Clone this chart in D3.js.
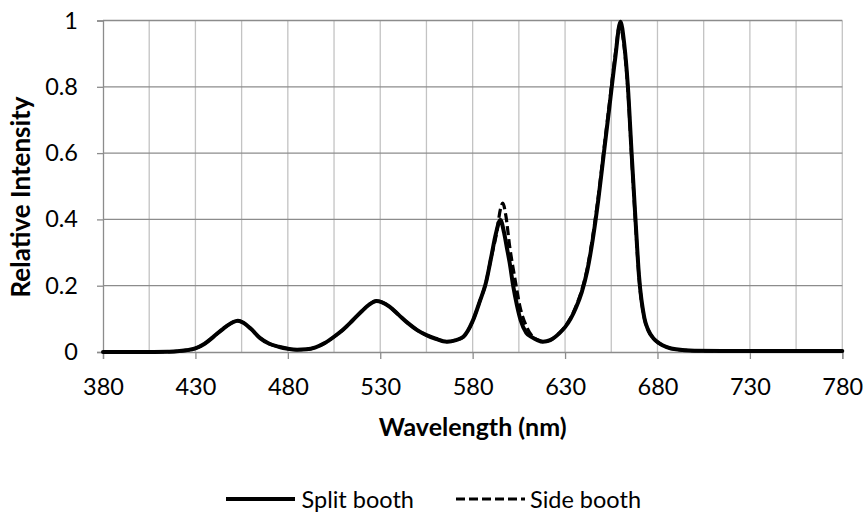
<!DOCTYPE html>
<html>
<head>
<meta charset="utf-8">
<script src="https://cdn.jsdelivr.net/npm/d3@7"></script>
<style>
  html, body { margin: 0; padding: 0; background: #fff; }
  svg { display: block; font-family: Lato, "Open Sans", sans-serif; }
</style>
</head>
<body>
<svg id="chart" width="867" height="512"></svg>
<script>
// Emission spectra of the two booth light sources (relative intensity)
const splitWavelength = [380, 400, 415, 420, 425, 430, 435, 440, 445, 450, 453, 456, 460, 465, 470, 475, 480, 485, 490, 495, 500, 505, 510, 515, 520, 524, 528, 531, 535, 540, 545, 550, 555, 560, 566, 571, 575, 580, 584, 587, 590, 592.5, 595, 597, 598.5, 600, 602, 604, 606, 609, 612, 615, 618, 622, 627, 630, 633, 636, 639, 642, 645, 648, 651, 654, 657, 660, 662, 664, 666, 668, 670, 673, 675, 678, 681, 685, 690, 700, 720, 750, 780];
const splitValue = [0, 0, 0.001, 0.002, 0.005, 0.011, 0.025, 0.047, 0.07, 0.089, 0.094, 0.088, 0.07, 0.042, 0.025, 0.016, 0.01, 0.007, 0.008, 0.014, 0.027, 0.046, 0.068, 0.095, 0.123, 0.143, 0.154, 0.15, 0.137, 0.112, 0.087, 0.066, 0.051, 0.04, 0.031, 0.036, 0.046, 0.093, 0.155, 0.205, 0.285, 0.355, 0.398, 0.36, 0.315, 0.27, 0.197, 0.14, 0.095, 0.058, 0.045, 0.036, 0.031, 0.036, 0.057, 0.075, 0.1, 0.135, 0.18, 0.245, 0.34, 0.46, 0.6, 0.74, 0.88, 0.996, 0.93, 0.8, 0.6, 0.41, 0.23, 0.1, 0.066, 0.04, 0.026, 0.015, 0.008, 0.004, 0.003, 0.003, 0.003];

const sideWavelength = [380, 400, 415, 420, 425, 430, 435, 440, 445, 450, 453, 456, 460, 465, 470, 475, 480, 485, 490, 495, 500, 505, 510, 515, 520, 524, 528, 531, 535, 540, 545, 550, 555, 560, 566, 571, 575, 580, 584, 587, 590, 593, 595, 596.3, 598, 600, 603, 605.6, 609.2, 612.5, 616, 619, 622, 627, 630, 633, 636, 639, 642, 645, 648, 651, 654, 657, 659.6, 662, 664, 666, 668, 670, 673, 675, 678, 681, 685, 690, 700, 720, 750, 780];
const sideValue = [0, 0, 0.001, 0.002, 0.005, 0.011, 0.025, 0.047, 0.07, 0.089, 0.094, 0.088, 0.07, 0.042, 0.025, 0.016, 0.01, 0.007, 0.008, 0.014, 0.027, 0.046, 0.068, 0.095, 0.123, 0.143, 0.154, 0.15, 0.137, 0.112, 0.087, 0.066, 0.051, 0.04, 0.031, 0.036, 0.046, 0.093, 0.155, 0.205, 0.285, 0.36, 0.43, 0.449, 0.41, 0.32, 0.217, 0.137, 0.076, 0.046, 0.035, 0.031, 0.036, 0.058, 0.077, 0.103, 0.139, 0.186, 0.252, 0.35, 0.47, 0.61, 0.75, 0.89, 0.985, 0.92, 0.79, 0.59, 0.4, 0.225, 0.1, 0.066, 0.04, 0.026, 0.015, 0.008, 0.004, 0.003, 0.003, 0.003];

const xTickValues = [380, 430, 480, 530, 580, 630, 680, 730, 780];
const xGridValues = [405, 430, 455, 480, 505, 530, 555, 580, 605, 630, 655, 680, 705, 730, 755, 780];
const yTickValues = [0, 0.2, 0.4, 0.6, 0.8, 1];
const seriesNames = ["Split booth", "Side booth"];

const svg = d3.select("#chart");
const plot = { left: 103, right: 842.3, top: 20.5, bottom: 352 };

const x = d3.scaleLinear().domain([380, 780]).range([plot.left, plot.right]);
const y = d3.scaleLinear().domain([0, 1]).range([plot.bottom, plot.top]);

// vertical gridlines every 25 nm
svg.append("g").selectAll("line").data(xGridValues).join("line")
  .attr("x1", d => x(d)).attr("x2", d => x(d))
  .attr("y1", plot.top).attr("y2", plot.bottom)
  .attr("stroke", "#c3c3c3").attr("stroke-width", 1.3);

// horizontal gridlines
svg.append("g").selectAll("line").data(yTickValues.filter(d => d > 0)).join("line")
  .attr("x1", plot.left).attr("x2", plot.right)
  .attr("y1", d => y(d)).attr("y2", d => y(d))
  .attr("stroke", "#8c8c8c").attr("stroke-width", 1.3);

// axes
const yAxis = svg.append("g")
  .attr("transform", `translate(${plot.left},0)`)
  .call(d3.axisLeft(y).tickValues(yTickValues).tickFormat(d3.format("~g")).tickSize(6).tickPadding(19));
const xAxis = svg.append("g")
  .attr("transform", `translate(0,${plot.bottom})`)
  .call(d3.axisBottom(x).tickValues(xTickValues).tickFormat(d3.format("d")).tickSize(7).tickPadding(19));

[yAxis, xAxis].forEach(g => {
  g.select(".domain").attr("stroke", "#8c8c8c").attr("stroke-width", 1.3);
  g.selectAll(".tick line").attr("stroke", "#8c8c8c").attr("stroke-width", 1.3);
  g.selectAll(".tick text").attr("fill", "#000").style("font-size", "23.5px")
    .style("font-family", "Lato, 'Open Sans', sans-serif");
});

// spectra
const line = d3.line().x(d => x(d[0])).y(d => y(d[1])).curve(d3.curveMonotoneX);
const splitData = splitWavelength.map((w, i) => [w, splitValue[i]]);
const sideData = sideWavelength.map((w, i) => [w, sideValue[i]]);

svg.append("path").datum(splitData).attr("d", line)
  .attr("fill", "none").attr("stroke", "#000").attr("stroke-width", 4)
  .attr("stroke-linejoin", "round").attr("stroke-linecap", "round");
svg.append("path").datum(sideData).attr("d", line)
  .attr("fill", "none").attr("stroke", "#000").attr("stroke-width", 3.2)
  .attr("stroke-dasharray", "9,4");

// axis titles
svg.append("text")
  .attr("x", (plot.left + plot.right) / 2).attr("y", 435.5)
  .attr("text-anchor", "middle").style("font-size", "25px").style("font-weight", "bold")
  .text("Wavelength (nm)");
svg.append("text")
  .attr("transform", "translate(30,197) rotate(-90)")
  .attr("text-anchor", "middle").style("font-size", "26px").style("font-weight", "bold")
  .text("Relative Intensity");

// legend
const legend = [
  { name: seriesNames[0], x1: 226, x2: 295, tx: 301.5, width: 4, dash: null },
  { name: seriesNames[1], x1: 456, x2: 525, tx: 530, width: 3.2, dash: "9,4" }
];
const lg = svg.append("g");
legend.forEach(l => {
  lg.append("line").attr("x1", l.x1).attr("x2", l.x2).attr("y1", 499).attr("y2", 499)
    .attr("stroke", "#000").attr("stroke-width", l.width)
    .attr("stroke-dasharray", l.dash);
  lg.append("text").attr("x", l.tx).attr("y", 507.5).style("font-size", "23.5px").text(l.name);
});
</script>
</body>
</html>
